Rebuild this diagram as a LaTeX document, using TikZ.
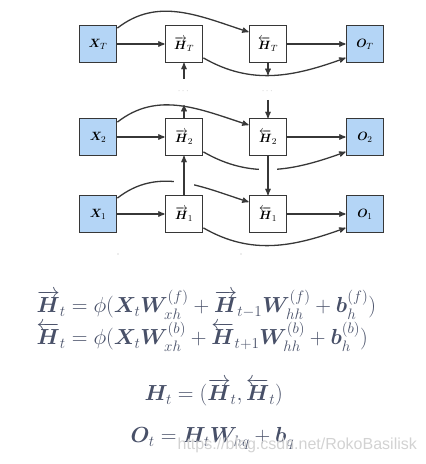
\documentclass[tikz,border=0pt]{standalone}
\usepackage{amsmath,amssymb,bm,graphicx}
\usepackage{fontspec}
\newfontfamily\markfont{Liberation Sans}
\usetikzlibrary{arrows}
\definecolor{iofill}{RGB}{180,213,246}
\definecolor{eqcol}{RGB}{72,80,104}
\definecolor{linecol}{RGB}{55,55,55}
\newcommand{\fH}{\overrightarrow{\bm{H}}}
\newcommand{\bH}{\overleftarrow{\bm{H}}}
\newcommand{\eqbox}[1]{\scalebox{1.051}{$#1$}}

\begin{document}
\begin{tikzpicture}[x=1pt,y=1pt,>=stealth',line width=1.3pt,
  io node/.style={draw=linecol,fill=iofill,minimum width=37.5pt,
    minimum height=36.5pt,inner sep=0pt,font=\fontsize{13}{15}\selectfont},
  hid node/.style={io node,fill=white},
  eq/.style={text=eqcol,anchor=base west,inner sep=0pt,font=\huge}]
  \useasboundingbox (0,0) rectangle (426,464);
  % top row: T
  \node[io node]  (XT) at (98,420)  {$\bm{X}_T$};
  \node[hid node] (FT) at (184,420) {$\fH_T$};
  \node[hid node] (BT) at (268,420) {$\bH_T$};
  \node[io node]  (OT) at (365,420) {$\bm{O}_T$};
  % row 2
  \node[io node]  (X2) at (98,327)  {$\bm{X}_2$};
  \node[hid node] (F2) at (184,327) {$\fH_2$};
  \node[hid node] (B2) at (268,327) {$\bH_2$};
  \node[io node]  (O2) at (365,327) {$\bm{O}_2$};
  % row 1
  \node[io node]  (X1) at (98,250)  {$\bm{X}_1$};
  \node[hid node] (F1) at (184,250) {$\fH_1$};
  \node[hid node] (B1) at (268,250) {$\bH_1$};
  \node[io node]  (O1) at (365,250) {$\bm{O}_1$};
  % ellipsis between rows
  \node[text=gray!60,font=\small] (Fdots) at (184,373) {$\cdots$};
  \node[text=gray!60,font=\small] (Bdots) at (268,373) {$\cdots$};
  \coordinate (FTin)  at (184,385);
  \coordinate (BTout) at (268,389);
  \coordinate (F2out) at (184,359);
  \coordinate (B2in)  at (268,364);
  \path[color=linecol]
    (XT) edge [->] (FT)
    (BT) edge [->] (OT)
    (X2) edge [->] (F2)
    (B2) edge [->] (O2)
    (X1) edge [->] (F1)
    (B1) edge [->] (O1)
    ([yshift=-3pt]XT.north east) edge [->,out=38,in=162] ([yshift=12pt]BT.west)
    ([yshift=-4pt]X2.north east) edge [->,out=38,in=162] ([yshift=12pt]B2.west)
    ([yshift=-3pt]X1.north east) edge [->,out=38,in=162] ([yshift=12pt]B1.west)
    ([yshift=5pt]FT.south east) edge [->,out=-30,in=200] ([yshift=5pt]OT.south west)
    ([yshift=4pt]F2.south east) edge [->,out=-30,in=200] ([yshift=4pt]O2.south west)
    ([yshift=5pt]F1.south east) edge [->,out=-30,in=200] ([yshift=5pt]O1.south west);
  % gaps where the vertical links cross the curves
  \draw[white,line width=20pt,shorten <=3pt,shorten >=3pt] (F1.north) -- (F2.south);
  \draw[white,line width=18pt,shorten <=3pt,shorten >=3pt] (B2.south) -- (B1.north);
  \path[color=linecol]
    (F1) edge [->] (F2)
    (B2) edge [->] (B1)
    (FTin) edge [->] (FT)
    (BT) edge [->] (BTout)
    (F2) edge [->] (F2out)
    (B2in) edge [->] (B2);
  \fill[gray!60] (118,210) circle (0.7pt) (241,210) circle (0.7pt);
  % equations
  \node[eq] (eqf) at (36,151)
    {\eqbox{\fH_t = \phi(\bm{X}_t \bm{W}_{xh}^{(f)} + \fH_{t-1} \bm{W}_{hh}^{(f)} + \bm{b}_h^{(f)})}};
  \node[eq] (eqb) at (36,119)
    {\eqbox{\bH_t = \phi(\bm{X}_t \bm{W}_{xh}^{(b)} + \bH_{t+1} \bm{W}_{hh}^{(b)} + \bm{b}_h^{(b)})}};
  \node[eq] (eqh) at (144,63) {\eqbox{\bm{H}_t = (\fH_t, \bH_t)}};
  \node[eq] (eqo) at (130,21) {\eqbox{\bm{O}_t = \bm{H}_t \bm{W}_{hq} + \bm{b}_q}};
  \node[anchor=base west,inner sep=0pt,text=gray!35,
    font=\markfont\fontsize{16}{18}\selectfont] (mark) at (177,14)
    {https://blog.csdn.net/RokoBasilisk};
\end{tikzpicture}
\end{document}
